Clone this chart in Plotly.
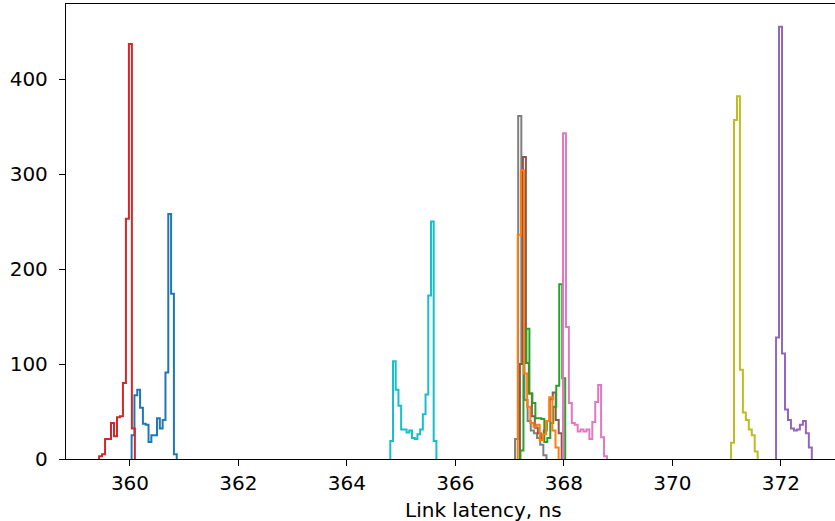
import numpy as np
import plotly.graph_objects as go

# Histogram data: (first bin edge in ns, bin width in ns, counts per bin)
blue_start, blue_width = 360.03, 0.052
blue_counts = [25, 67, 73, 54, 37, 36, 18, 25, 25, 43, 32, 41, 91, 258, 174, 5]

orange_start, orange_width = 367.15, 0.058
orange_counts = [236, 304, 90, 55, 38, 34, 36, 20, 26, 40, 65, 30, 12]

green_start, green_width = 367.20, 0.055
green_counts = [9, 101, 137, 69, 59, 43, 43, 42, 18, 22, 38, 55, 77, 184, 85]

red_start, red_width = 359.43, 0.055
red_counts = [3, 5, 21, 21, 38, 24, 44, 45, 80, 253, 437, 32]

purple_start, purple_width = 371.913, 0.055
purple_counts = [128, 455, 111, 52, 41, 32, 30, 31, 36, 40, 27, 12]

brown_start, brown_width = 367.19, 0.055
brown_counts = [100, 318, 101, 69, 45, 33, 27, 22, 30, 40, 63, 70, 41, 27]

pink_start, pink_width = 367.985, 0.054
pink_counts = [343, 139, 59, 38, 36, 29, 31, 29, 31, 21, 39, 60, 78, 23, 3]

gray_start, gray_width = 367.10, 0.058
gray_counts = [21, 361, 100, 62, 40, 30, 27, 22, 15, 4]

olive_start, olive_width = 371.083, 0.0546
olive_counts = [17, 357, 382, 94, 49, 41, 31, 25, 8]

cyan_start, cyan_width = 364.80, 0.05
cyan_counts = [19, 103, 73, 56, 31, 31, 28, 30, 22, 21, 26, 31, 47, 68, 172, 250, 19]

# drawing order (later traces on top)
series = [
    ("#7f7f7f", gray_start, gray_width, gray_counts),
    ("#8c564b", brown_start, brown_width, brown_counts),
    ("#2ca02c", green_start, green_width, green_counts),
    ("#ff7f0e", orange_start, orange_width, orange_counts),
    ("#e377c2", pink_start, pink_width, pink_counts),
    ("#1f77b4", blue_start, blue_width, blue_counts),
    ("#d62728", red_start, red_width, red_counts),
    ("#9467bd", purple_start, purple_width, purple_counts),
    ("#bcbd22", olive_start, olive_width, olive_counts),
    ("#17becf", cyan_start, cyan_width, cyan_counts),
]

x_ticks = [360, 362, 364, 366, 368, 370, 372]
y_ticks = [0, 100, 200, 300, 400]
x_title = "Link latency, ns"

fig = go.Figure()
for color, start, width, counts in series:
    n = len(counts)
    edges = start + width * np.arange(n + 1)
    xs = [edges[0]] + list(edges[:-1]) + [edges[-1]]
    ys = [0] + list(counts) + [0]
    fig.add_trace(go.Scatter(
        x=xs, y=ys, mode="lines", line=dict(color=color, width=2, shape="hv"),
        showlegend=False, hoverinfo="skip"))

fig.update_layout(
    width=835, height=521,
    margin=dict(l=66, r=0, t=4, b=62),
    paper_bgcolor="white", plot_bgcolor="white",
    font=dict(family="DejaVu Sans", size=20, color="black"),
)
# axis title: the original axes extend past the right edge, so its centre sits right of the visible centre
fig.add_annotation(
    text=x_title, xref="paper", yref="paper", x=0.543, y=-0.112,
    xanchor="center", yanchor="middle", showarrow=False, font=dict(size=20),
)
fig.update_xaxes(
    range=[358.82, 373.0], tickvals=x_ticks, ticktext=[str(v) for v in x_ticks],
    showgrid=False, zeroline=False, showline=True, linecolor="black", linewidth=1.3,
    mirror=True, ticks="outside", ticklen=6, tickwidth=1.2, tickcolor="black",
    ticklabelstandoff=0,
)
fig.update_yaxes(
    range=[0, 479], tickvals=y_ticks, ticktext=[str(v) for v in y_ticks],
    showgrid=False, zeroline=False, showline=True, linecolor="black", linewidth=1.3,
    ticks="outside", ticklen=6, tickwidth=1.2, tickcolor="black",
    ticklabelstandoff=7,
)

fig.write_html("out.html")
